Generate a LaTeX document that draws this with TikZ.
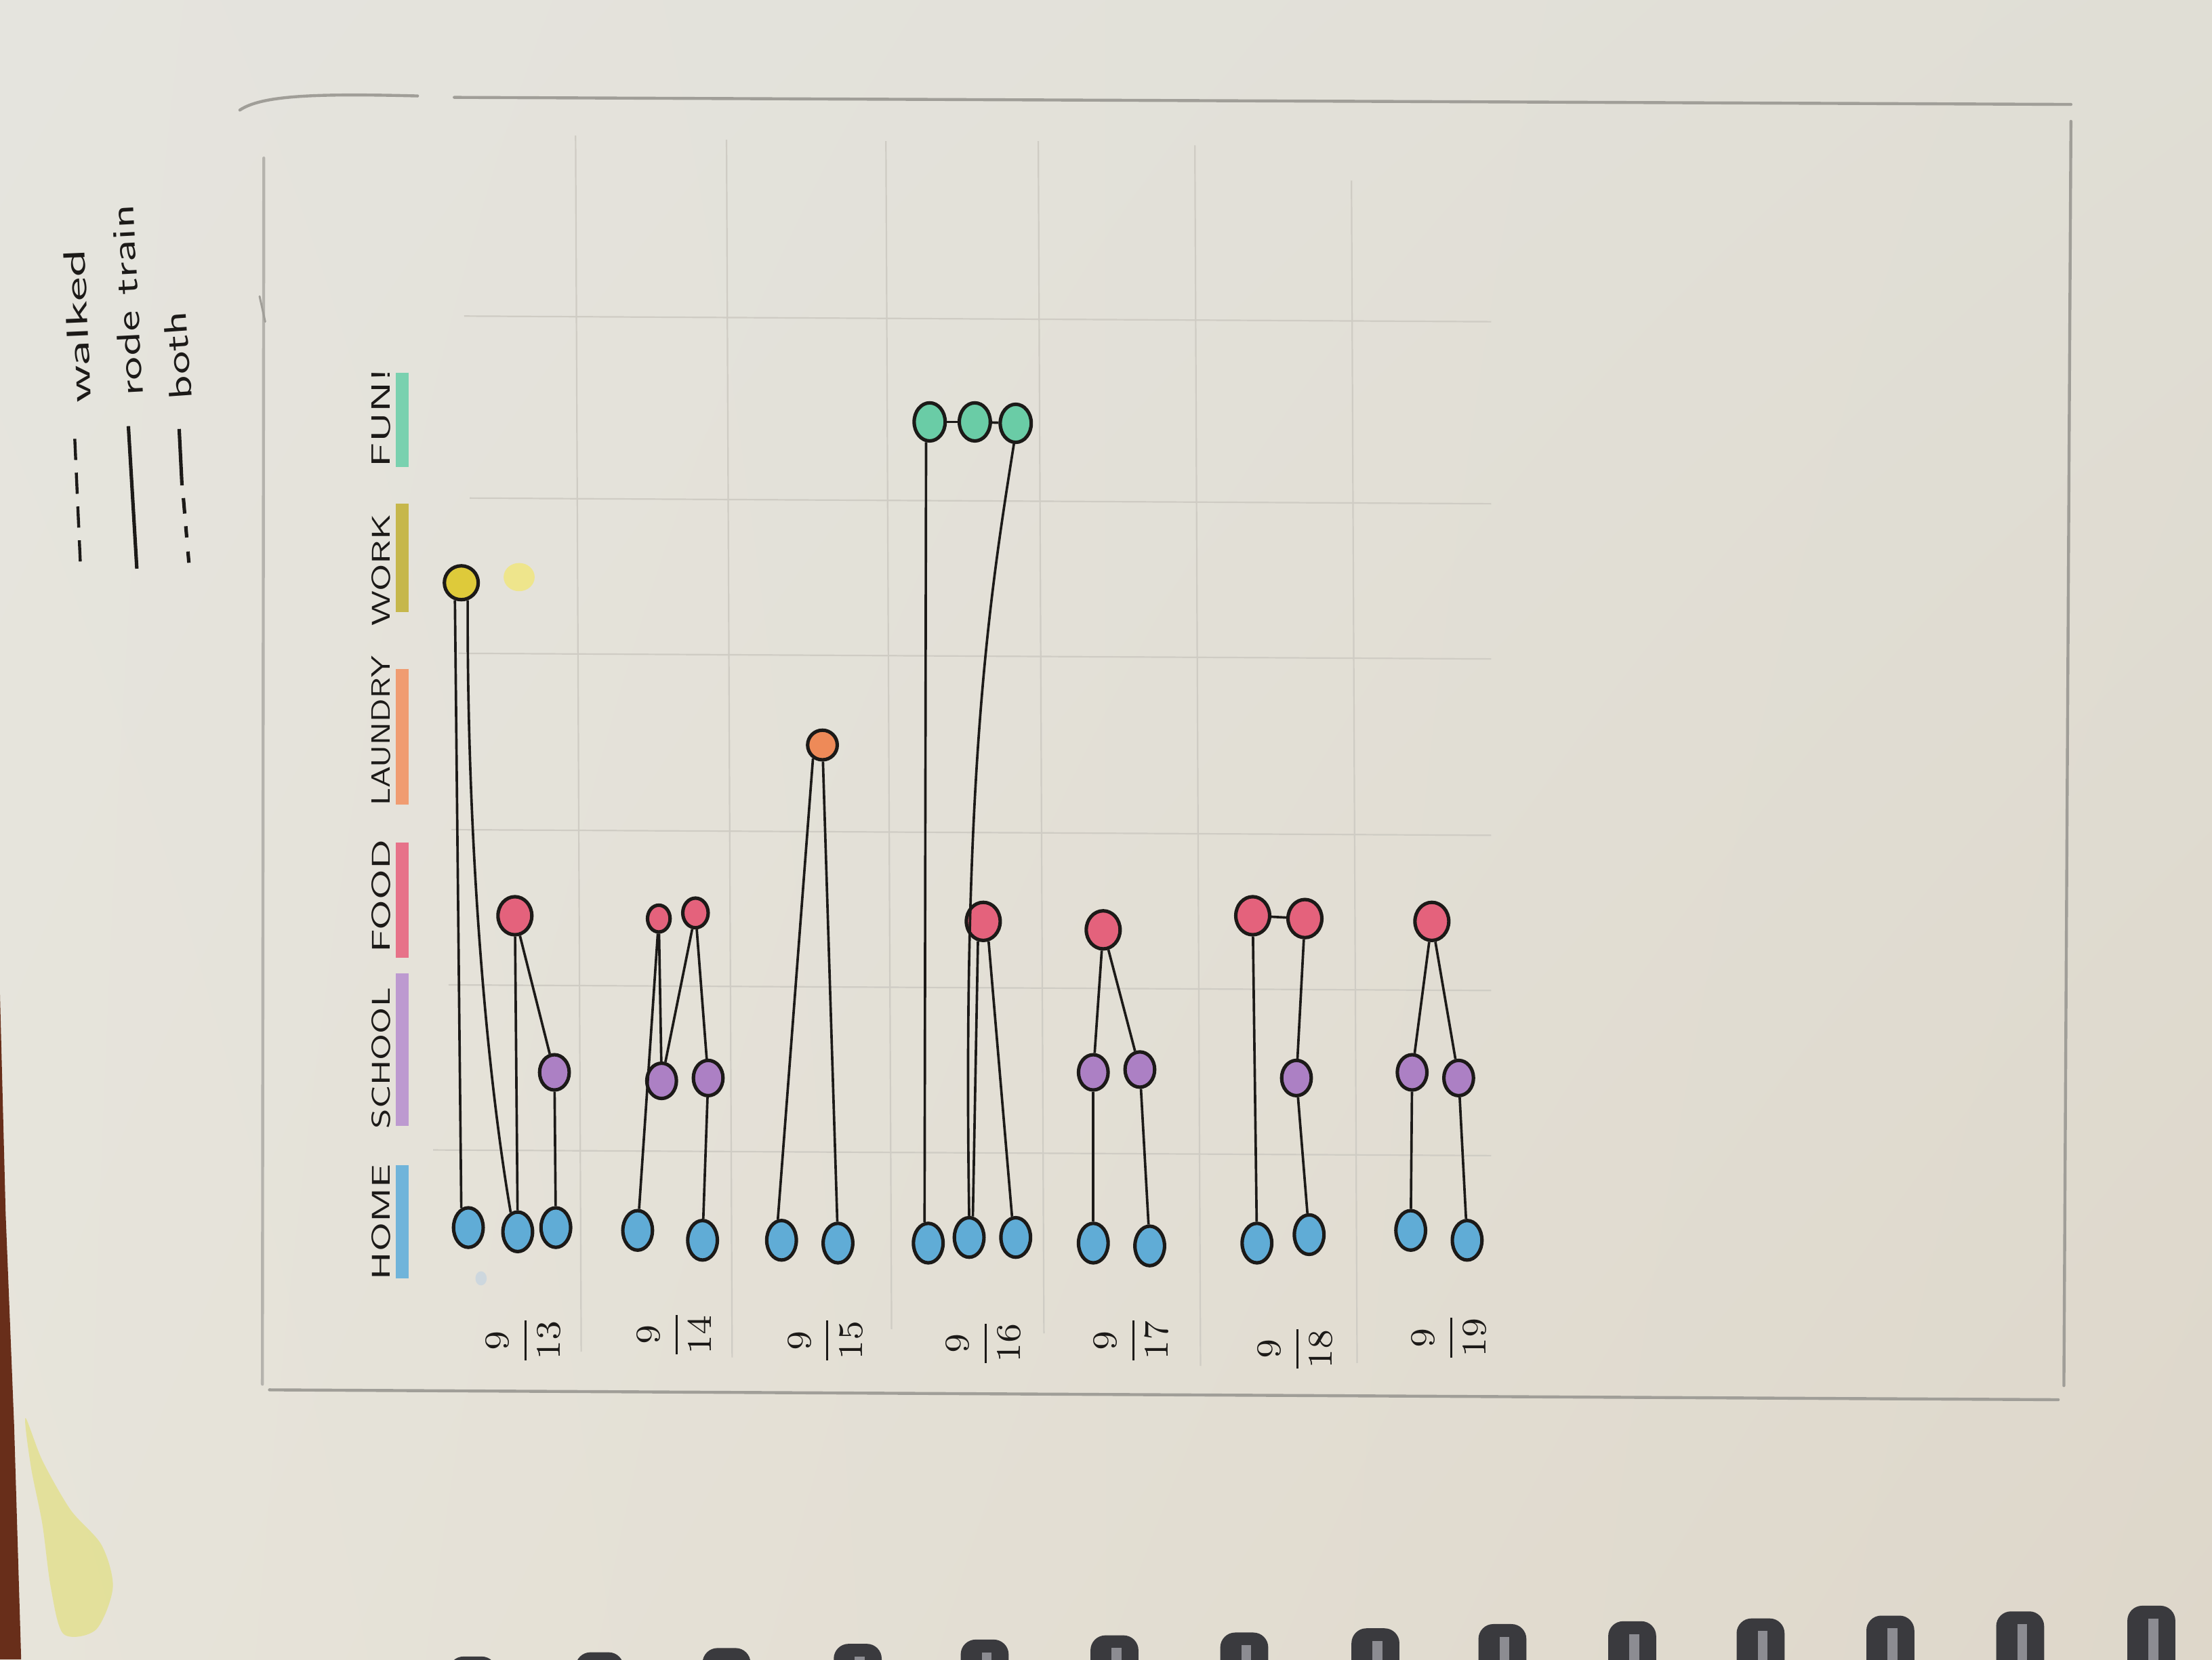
\documentclass[tikz,border=0pt]{standalone}
\usetikzlibrary{shapes.geometric,shadings}

\definecolor{paperTL}{RGB}{229,228,222}
\definecolor{paperTR}{RGB}{224,222,213}
\definecolor{paperBL}{RGB}{231,228,218}
\definecolor{paperBR}{RGB}{222,215,202}
\definecolor{ink}{RGB}{28,26,24}
\definecolor{gridgray}{RGB}{207,204,196}
\definecolor{framegray}{RGB}{160,158,152}
\definecolor{homeblue}{RGB}{96,172,214}
\definecolor{schoolpurple}{RGB}{172,128,196}
\definecolor{foodred}{RGB}{228,98,124}
\definecolor{laundryorange}{RGB}{238,138,88}
\definecolor{workyellow}{RGB}{222,202,58}
\definecolor{fungreen}{RGB}{106,204,166}
\definecolor{paleyellow}{RGB}{238,229,140}
\definecolor{paleblue}{RGB}{205,215,222}
\definecolor{smudgeyellow}{RGB}{226,224,140}
\definecolor{deskbrown}{RGB}{104,46,26}
\definecolor{coildark}{RGB}{58,58,62}
\definecolor{coillight}{RGB}{140,140,146}

\newcommand{\handtext}[3]{\resizebox{#1}{#2}{\sffamily #3}}

\begin{document}
\begin{tikzpicture}[x=0.1mm, y=-0.1mm,
  spot/.style={ellipse, draw=ink, line width=0.7pt, inner sep=0pt},
  home/.style={spot, fill=homeblue, minimum width=2.1mm, minimum height=2.8mm},
  school/.style={spot, fill=schoolpurple, minimum width=2.1mm, minimum height=2.5mm},
  food/.style={spot, fill=foodred, minimum width=2.4mm, minimum height=2.7mm},
  laundry/.style={spot, fill=laundryorange, minimum width=2.1mm, minimum height=2.1mm},
  work/.style={spot, fill=workyellow, minimum width=2.4mm, minimum height=2.4mm},
  fun/.style={spot, fill=fungreen, minimum width=2.2mm, minimum height=2.7mm},
  trip/.style={draw=ink, line width=0.5pt},
  gridline/.style={draw=gridgray, line width=0.3pt},
  frameline/.style={draw=framegray, line width=0.6pt, line cap=round},
  catlabel/.style={rotate=90, inner sep=0pt, text=ink},
  keylabel/.style={rotate=93, inner sep=0pt, text=ink},
  datelabel/.style={rotate=90, inner sep=0pt, text=ink, font=\fontsize{7}{8}\selectfont},
  swatch/.style={line width=0.9mm}]

\useasboundingbox (0,0) rectangle (1568,1176);
\shade[upper left=paperTL, upper right=paperTR, lower left=paperBL, lower right=paperBR] (0,0) rectangle (1568,1176);

% desk edge, smudge and binding
\fill[deskbrown] (0,705) -- (4,860) -- (10,1010) -- (15,1176) -- (0,1176) -- cycle;
\fill[smudgeyellow, opacity=0.8] plot[smooth cycle] coordinates {(18,1005) (30,1035) (50,1070) (72,1095) (80,1125) (68,1155) (45,1158) (36,1125) (30,1080) (22,1040)};
\foreach \cx/\cy in {335/1174, 425/1171, 515/1168, 608/1165, 698/1162, 790/1159, 882/1157, 975/1154, 1065/1151, 1157/1149, 1248/1147, 1340/1145, 1432/1142, 1525/1138} {
  \fill[coildark, rounded corners=3] (\cx-17,\cy) rectangle (\cx+17,1190);
  \fill[coillight] (\cx-2,\cy+9) rectangle (\cx+5,1190);
}

% frame
\draw[frameline] (170,78) .. controls (185,68) and (220,66) .. (296,68);
\draw[frameline] (322,69) -- (1468,74);
\draw[frameline] (1468,86) -- (1463,982);
\draw[frameline] (191,985) -- (1459,992);
\draw[frameline, draw=framegray!70!paperTL] (187,112) -- (186,981);
\draw[frameline, line width=0.4pt] (184,210) -- (188,228);

% grid
\foreach \gx/\gt/\gb in {410/96/958, 517/99/962, 630/100/942, 738/100/945, 849/103/968, 960/128/966}
  \draw[gridline] (\gx-2,\gt) -- (\gx+2,\gb);
\foreach \gy/\gl in {226/329, 355/333, 465/325, 590/320, 700/318, 817/307}
  \draw[gridline] (\gl,\gy-2) -- (1057,\gy+2);

% legend
\node[keylabel, rotate=-0.5] (kwalk) at (55,231) {\handtext{10.9mm}{1.5mm}{walked}};
\node[keylabel] (ktrain) at (90,213) {\handtext{13.6mm}{1.6mm}{rode train}};
\node[keylabel, rotate=1] (kboth) at (126,252) {\handtext{6.3mm}{1.6mm}{both}};
\draw[trip, line width=0.6pt, dash pattern=on 1.5mm off 0.9mm] (53,311) -- (57,400);
\draw[trip, line width=0.7pt] (91,302) -- (97,403);
\draw[trip, line width=0.7pt] (127,304) -- (129,344);
\draw[trip, line width=0.7pt, dash pattern=on 1.1mm off 0.9mm on 0.8mm off 1mm on 0.8mm off 2mm] (130,353) -- (134,400);

% categories
\node[catlabel] (lhome) at (270,866) {\handtext{8.2mm}{1.3mm}{HOME}};
\node[catlabel] (lschool) at (270,750) {\handtext{10mm}{1.3mm}{SCHOOL}};
\node[catlabel] (lfood) at (270,635) {\handtext{8mm}{1.3mm}{FOOD}};
\node[catlabel] (llaundry) at (270,518) {\handtext{10.6mm}{1.3mm}{LAUNDRY}};
\node[catlabel] (lwork) at (270,404) {\handtext{7.9mm}{1.3mm}{WORK}};
\node[catlabel] (lfun) at (270,296) {\handtext{7mm}{1.3mm}{FUN!}};
\draw[swatch, homeblue!90!white] (285,826) -- (285,906);
\draw[swatch, schoolpurple!80!white] (285,690) -- (285,798);
\draw[swatch, foodred!90!white] (285,597) -- (285,679);
\draw[swatch, laundryorange!85!white] (285,474) -- (285,570);
\draw[swatch, workyellow!75!gray] (285,357) -- (285,434);
\draw[swatch, fungreen!90!white] (285,264) -- (285,331);

% dates
\node[datelabel] (d13) at (371,950) {$\displaystyle\frac{9}{13}$};
\node[datelabel] (d14) at (478,946) {$\displaystyle\frac{9}{14}$};
\node[datelabel] (d15) at (585,950) {$\displaystyle\frac{9}{15}$};
\node[datelabel] (d16) at (697,952) {$\displaystyle\frac{9}{16}$};
\node[datelabel] (d17) at (802,950) {$\displaystyle\frac{9}{17}$};
\node[datelabel] (d18) at (918,956) {$\displaystyle\frac{9}{18}$};
\node[datelabel] (d19) at (1027,948) {$\displaystyle\frac{9}{19}$};

% faded marks
\fill[paleyellow] (368,409) ellipse [x radius=11, y radius=10];
\fill[paleblue] (341,906) ellipse [x radius=4, y radius=5];

% 9/13
\node[home] (h131) at (332,870) {};
\node[home] (h132) at (367,873) {};
\node[home] (h133) at (394,870) {};
\node[work] (w13) at (327,413) {};
\node[food] (f13) at (365,649) {};
\node[school] (s13) at (393,760) {};
\draw[trip] (h131.110) -- (w13.250);
\draw[trip] (w13.290) .. controls (331,600) and (345,760) .. (h132.110);
\draw[trip] (h132) -- (f13);
\draw[trip] (f13) -- (s13);
\draw[trip] (s13) -- (h133);

% 9/14
\node[home] (h141) at (452,872) {};
\node[home] (h142) at (498,879) {};
\node[food, minimum width=1.6mm, minimum height=1.9mm] (f141) at (467,651) {};
\node[food, minimum width=1.8mm, minimum height=2.1mm] (f142) at (493,647) {};
\node[school] (s141) at (469,766) {};
\node[school] (s142) at (502,764) {};
\draw[trip] (h141) -- (f141);
\draw[trip] (f141) -- (s141);
\draw[trip] (s141) -- (f142);
\draw[trip] (f142) -- (s142);
\draw[trip] (s142) -- (h142);

% 9/15
\node[home] (h151) at (554,879) {};
\node[home] (h152) at (594,881) {};
\node[laundry] (l15) at (583,528) {};
\draw[trip] (h151.100) -- (l15.235);
\draw[trip] (l15) -- (h152);

% 9/16
\node[home] (h161) at (658,881) {};
\node[home] (h162) at (687,877) {};
\node[home] (h163) at (720,877) {};
\node[fun] (u161) at (659,299) {};
\node[fun] (u162) at (691,299) {};
\node[fun] (u163) at (720,300) {};
\node[food] (f16) at (697,653) {};
\draw[trip] (h161.100) -- (u161.260);
\draw[trip] (u161) -- (u162);
\draw[trip] (u162) -- (u163);
\draw[trip] (u163.265) .. controls (702,420) and (682,545) .. (h162.north);
\draw[trip] (h162.80) -- (f16.255);
\draw[trip] (f16.285) -- (h163.100);

% 9/17
\node[home] (h171) at (775,881) {};
\node[home] (h172) at (815,883) {};
\node[school] (s171) at (775,760) {};
\node[school] (s172) at (808,758) {};
\node[food] (f17) at (782,659) {};
\draw[trip] (h171) -- (s171);
\draw[trip] (s171) -- (f17);
\draw[trip] (f17) -- (s172);
\draw[trip] (s172) -- (h172);

% 9/18
\node[home] (h181) at (891,881) {};
\node[home] (h182) at (928,875) {};
\node[food] (f181) at (888,649) {};
\node[food] (f182) at (925,651) {};
\node[school] (s18) at (919,764) {};
\draw[trip] (h181) -- (f181);
\draw[trip] (f181) -- (f182);
\draw[trip] (f182) -- (s18);
\draw[trip] (s18) -- (h182);

% 9/19
\node[home] (h191) at (1000,872) {};
\node[home] (h192) at (1040,879) {};
\node[school] (s191) at (1001,760) {};
\node[school] (s192) at (1034,764) {};
\node[food] (f19) at (1015,653) {};
\draw[trip] (h191) -- (s191);
\draw[trip] (s191) -- (f19);
\draw[trip] (f19) -- (s192);
\draw[trip] (s192) -- (h192);

\end{tikzpicture}
\end{document}
